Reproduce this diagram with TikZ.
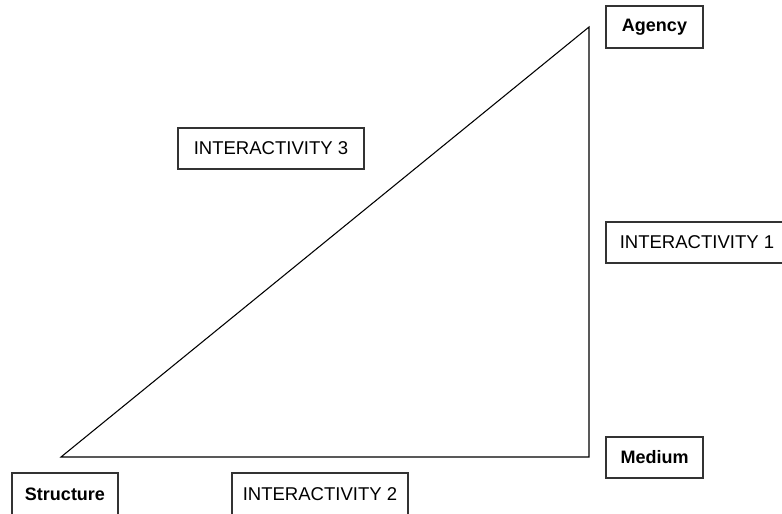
\documentclass[tikz,border=0pt]{standalone}
\usepackage{fontspec}
\setmainfont{Liberation Sans}
\begin{document}
\begin{tikzpicture}[x=0.75pt,y=-0.75pt,
  box/.style={draw=black!80,line width=0.8pt,inner sep=0pt,font=\fontsize{13.9pt}{16pt}\selectfont},
  bbox/.style={box,font=\fontsize{13.5pt}{16pt}\selectfont\bfseries},
  tri/.style={draw=black,line width=0.8pt}]
\useasboundingbox (0,0) rectangle (782,514);
\clip (0,0) rectangle (782,514);
% triangle vertices
\coordinate (S) at (61,457);
\coordinate (M) at (589,457);
\coordinate (A) at (589,27);
\draw[tri] (S) -- (M) -- (A) -- cycle;
% labels
\node[bbox,minimum width=97*0.75pt,minimum height=42*0.75pt] (agency) at (654.5,27) {Agency};
\node[bbox,minimum width=97*0.75pt,minimum height=41*0.75pt] (medium) at (654.5,457.5) {Medium};
\node[bbox,minimum width=106*0.75pt,minimum height=42*0.75pt] (structure) at (65,494) {Structure};
\node[box,minimum width=176*0.75pt,minimum height=42*0.75pt] (i2) at (320,494) {INTERACTIVITY 2};
\node[box,minimum width=186*0.75pt,minimum height=41*0.75pt] (i3) at (271,148.5) {INTERACTIVITY 3};
\node[box,minimum width=182*0.75pt,minimum height=41*0.75pt] (i1) at (697,242.5) {INTERACTIVITY 1};
\end{tikzpicture}
\end{document}
